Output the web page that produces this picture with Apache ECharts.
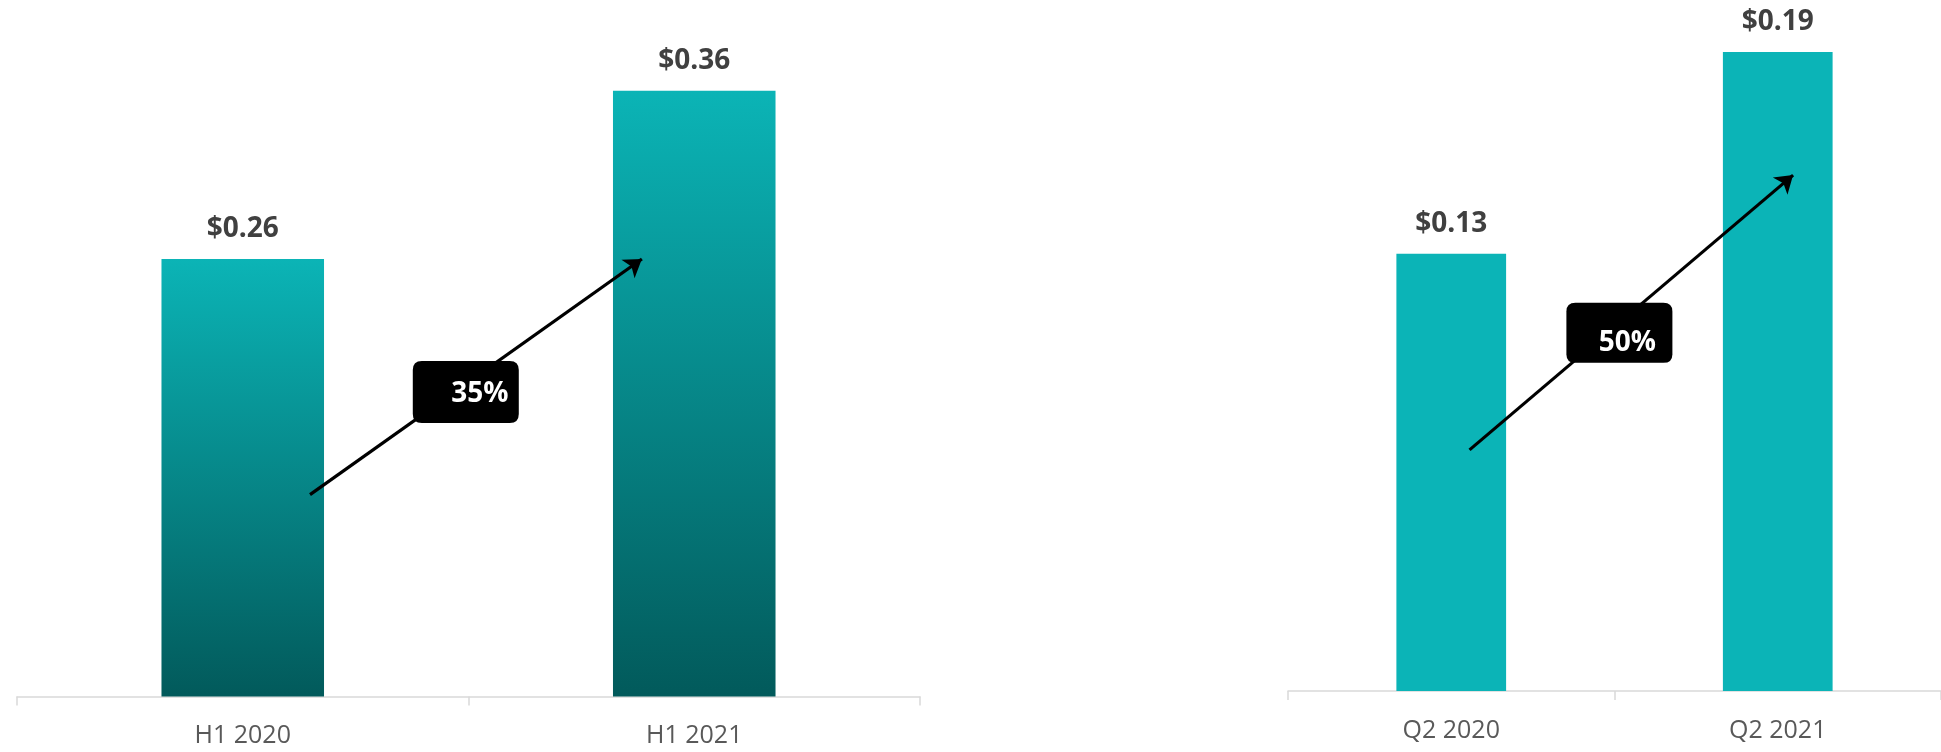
<!DOCTYPE html>
<html>
<head>
<meta charset="utf-8">
<title>H1 / Q2 bars</title>
<style>
  html, body { margin: 0; padding: 0; background: #fff; }
  #main { width: 1941px; height: 752px; }
</style>
</head>
<body>
<div id="main"></div>
<script src="https://cdn.jsdelivr.net/npm/echarts@6/dist/echarts.min.js"></script>
<script>
// data
var halfCats = ['H1 2020', 'H1 2021'];
var halfVals = [0.26, 0.36];
var halfGrowth = '35%';
var quarterCats = ['Q2 2020', 'Q2 2021'];
var quarterVals = [0.13, 0.19];
var quarterGrowth = '50%';

// arrow + badge positions, in data units (x: category index, y: value)
var halfArrow = [[0.149, 0.120], [0.884, 0.260]];
var halfBadge = [0.494, 0.181];
var quarterArrow = [[0.056, 0.0717], [1.047, 0.1534]];
var quarterBadge = [0.515, 0.1065];

var font = "'Open Sans', 'Noto Sans', sans-serif";
// rounded box shape for the growth badges
var badgePath = 'path://M9 0H97Q106 0 106 9V53Q106 62 97 62H9Q0 62 0 53V9Q0 0 9 0Z';

function catAxis(gi, cats) {
  return {
    type: 'category', gridIndex: gi, data: cats,
    axisLine: { lineStyle: { color: '#d9d9d9', width: 1.5 } },
    axisTick: { show: true, length: 9, lineStyle: { color: '#d9d9d9', width: 1.5 } },
    axisLabel: { color: '#595959', fontSize: 25, fontFamily: font, margin: 27 }
  };
}
function helperAxis(gi) {
  return { type: 'value', gridIndex: gi, min: -0.5, max: 1.5, show: false };
}
function valueLabel() {
  return {
    show: true, position: 'top', distance: 16,
    color: '#404040', fontSize: 28, fontWeight: 'bold', fontFamily: font,
    formatter: function (p) { return '$' + p.value.toFixed(2); }
  };
}
function arrow(xi, yi, pts) {
  return {
    type: 'lines', coordinateSystem: 'cartesian2d', xAxisIndex: xi, yAxisIndex: yi, z: 3,
    symbol: ['none', 'arrow'], symbolSize: 17,
    lineStyle: { color: '#000', width: 3.2, opacity: 1 },
    data: [{ coords: pts }]
  };
}
function badge(xi, yi, pt, txt, size, off) {
  return {
    type: 'scatter', xAxisIndex: xi, yAxisIndex: yi, z: 4,
    symbol: badgePath, symbolSize: size,
    itemStyle: { color: '#000', opacity: 1 },
    emphasis: { disabled: true },
    data: [pt],
    label: {
      show: true, position: 'inside', formatter: txt, offset: off,
      color: '#fff', fontSize: 28, fontWeight: 'bold', fontFamily: font
    }
  };
}

var chart = echarts.init(document.getElementById('main'));
chart.setOption({
  animation: false,
  backgroundColor: '#fff',
  grid: [
    { left: 17, width: 903, top: 23.5, height: 673 },
    { left: 1288, width: 658, top: 18.4, height: 672.6 }
  ],
  xAxis: [catAxis(0, halfCats), catAxis(1, quarterCats), helperAxis(0), helperAxis(1)],
  yAxis: [
    { type: 'value', gridIndex: 0, min: 0, max: 0.4, show: false },
    { type: 'value', gridIndex: 1, min: 0, max: 0.2, show: false }
  ],
  series: [
    {
      type: 'bar', xAxisIndex: 0, yAxisIndex: 0, data: halfVals, barWidth: '36%',
      itemStyle: {
        color: new echarts.graphic.LinearGradient(0, 0, 0, 1, [
          { offset: 0, color: '#0bb4b6' },
          { offset: 1, color: '#025a5b' }
        ])
      },
      label: valueLabel()
    },
    {
      type: 'bar', xAxisIndex: 1, yAxisIndex: 1, data: quarterVals, barWidth: '33.6%',
      itemStyle: { color: '#0bb4b7' },
      label: valueLabel()
    },
    arrow(2, 0, halfArrow),
    arrow(3, 1, quarterArrow),
    badge(2, 0, halfBadge, halfGrowth, [106, 62], [14, 2]),
    badge(3, 1, quarterBadge, quarterGrowth, [106, 60], [8, 10])
  ]
});
</script>
</body>
</html>
